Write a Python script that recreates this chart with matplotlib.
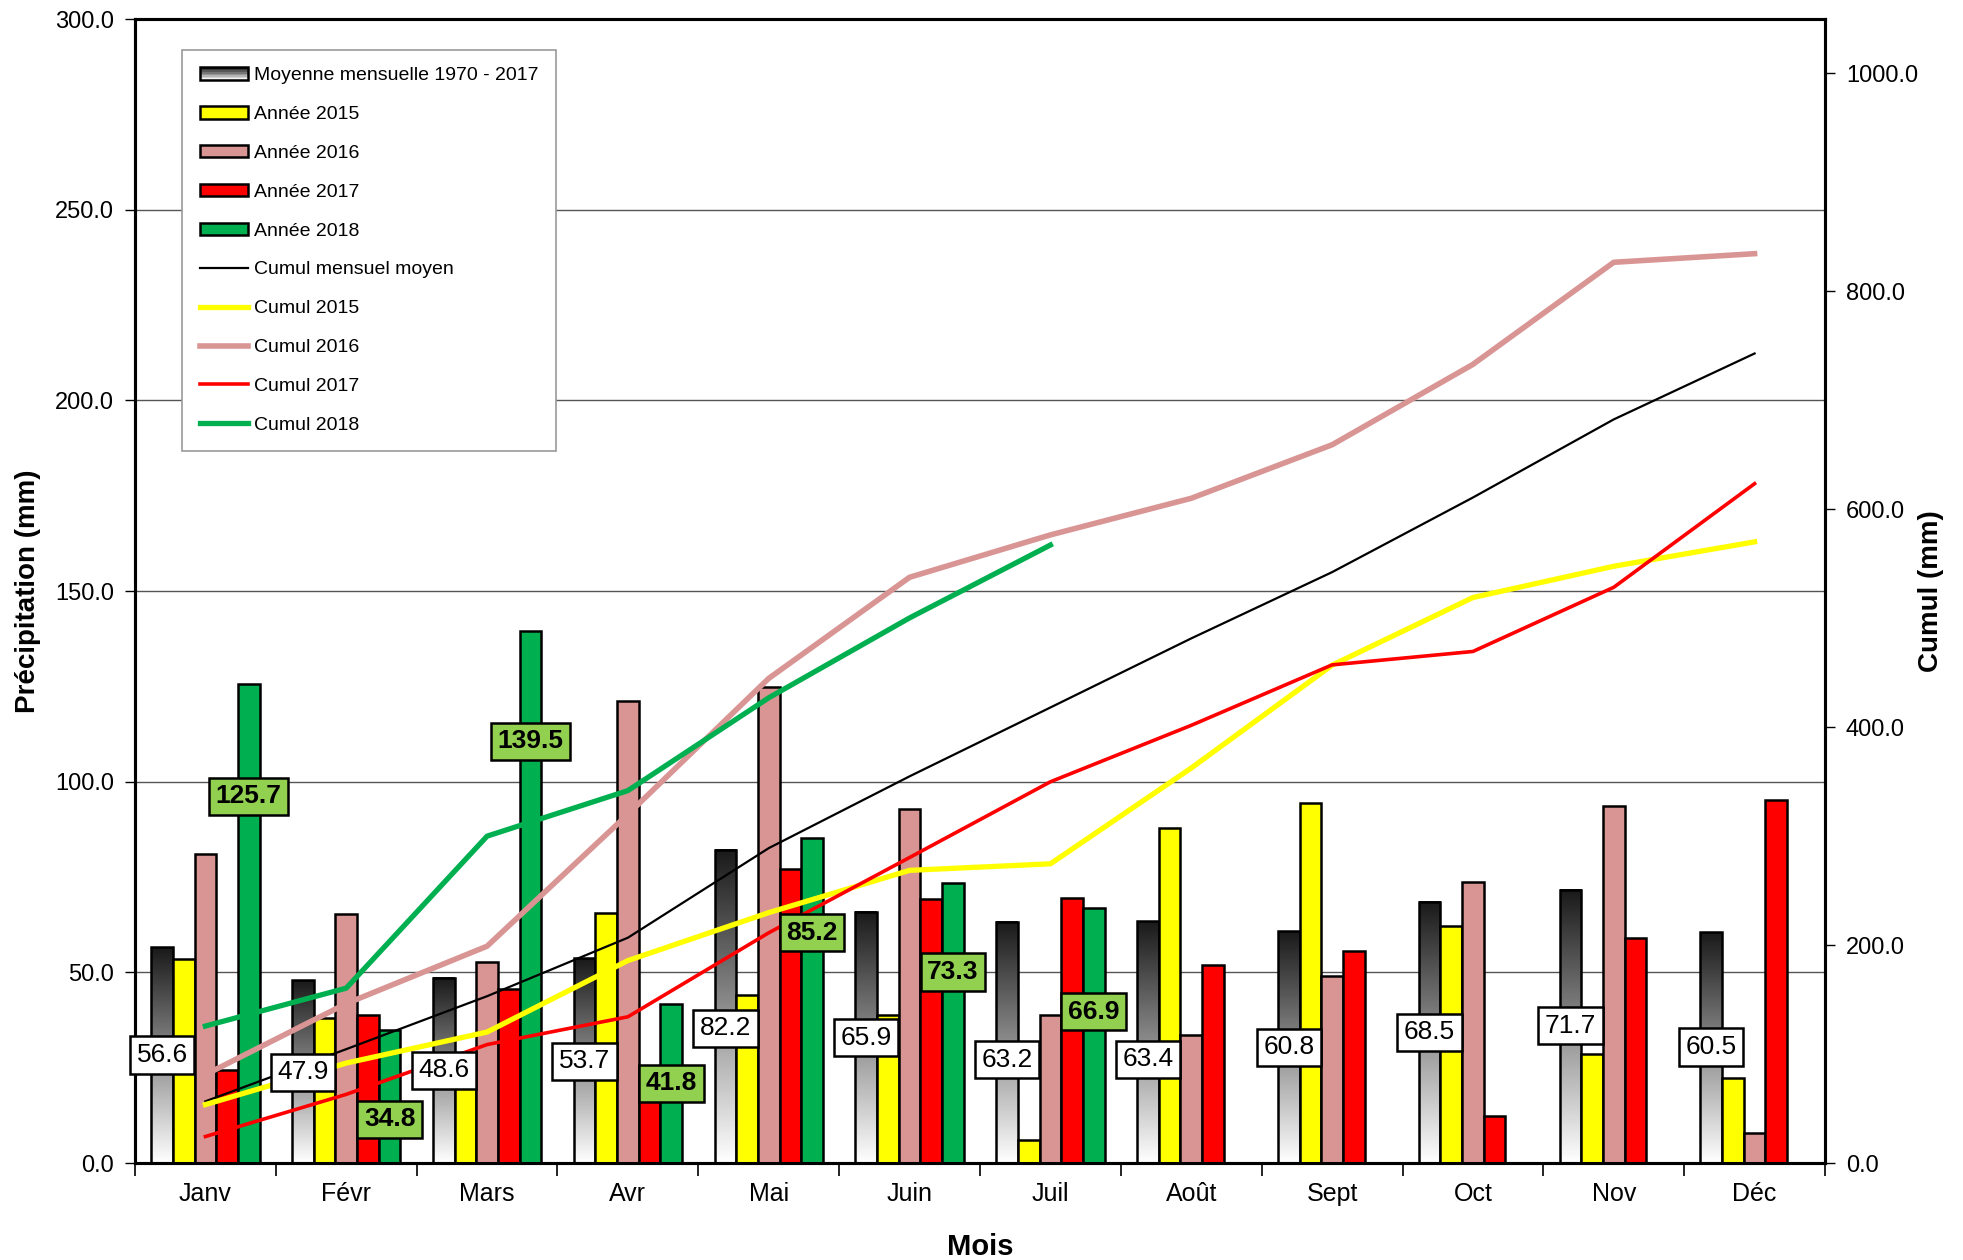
import numpy as np
import matplotlib
matplotlib.use("Agg")
import matplotlib.pyplot as plt
from matplotlib.patches import Rectangle
from matplotlib.lines import Line2D
from matplotlib.legend_handler import HandlerBase

plt.rcParams['font.family'] = ['Liberation Sans', 'DejaVu Sans']

# Data
mois = ['Janv', 'Févr', 'Mars', 'Avr', 'Mai', 'Juin', 'Juil', 'Août', 'Sept', 'Oct', 'Nov', 'Déc']
moyenne = [56.6, 47.9, 48.6, 53.7, 82.2, 65.9, 63.2, 63.4, 60.8, 68.5, 71.7, 60.5]
annee_2015 = [53.6, 38.1, 28.5, 65.6, 44.0, 38.8, 6.0, 87.9, 94.4, 62.1, 28.7, 22.4]
annee_2016 = [81.1, 65.2, 52.7, 121.1, 124.7, 92.8, 38.9, 33.6, 49.1, 73.8, 93.7, 7.9]
annee_2017 = [24.3, 38.7, 45.7, 25.5, 77.1, 69.1, 69.5, 51.8, 55.5, 12.3, 58.9, 95.1]
annee_2018 = [125.7, 34.8, 139.5, 41.8, 85.2, 73.3, 66.9]

# label heights (left axis units), placed by hand in the original
lbl_moy_y = [28.3, 23.8, 24.3, 26.7, 35.3, 32.9, 27.1, 27.2, 30.3, 34.3, 36.0, 30.4]
lbl_2018_y = [96.2, 11.5, 110.6, 20.9, 60.4, 50.1, 39.7]

C15 = '#FFFF00'
C16 = '#D99594'
C17 = '#FF0000'
C18 = '#00B050'


class HandlerGrad(HandlerBase):
    def create_artists(self, legend, orig_handle, xdescent, ydescent,
                       width, height, fontsize, trans):
        arts = []
        n = 8
        for k in range(n):
            shade = 0.1 + 0.85 * k / (n - 1)
            r = Rectangle((-xdescent, -ydescent + height * (1 - (k + 1) / n)),
                          width, height / n, facecolor=(shade, shade, shade),
                          edgecolor='none', transform=trans)
            arts.append(r)
        arts.append(Rectangle((-xdescent, -ydescent), width, height, fill=False,
                              edgecolor='black', linewidth=1.8, transform=trans))
        return arts


fig = plt.figure(figsize=(19.63, 12.60), dpi=100)
ax1 = fig.add_axes([135 / 1963, 1 - 1163 / 1260, 1690 / 1963, 1144 / 1260])
ax2 = ax1.twinx()

x = np.arange(len(mois))
w = 0.154
offs = [-2 * w, -w, 0, w, 2 * w]

# mean bars with vertical gradient (dark top -> white bottom)
grad = np.linspace(0.1, 1.0, 256).reshape(-1, 1)
for i, v in enumerate(moyenne):
    x0 = x[i] + offs[0] - w / 2
    ax1.imshow(grad, extent=[x0, x0 + w, 0, v], origin='upper', aspect='auto',
               cmap='gray', vmin=0, vmax=1, interpolation='bicubic', zorder=2)
ax1.bar(x + offs[0], moyenne, w, fill=False, edgecolor='black', linewidth=1.8, zorder=3)
ax1.bar(x + offs[1], annee_2015, w, color=C15, edgecolor='black', linewidth=1.8, zorder=3)
ax1.bar(x + offs[2], annee_2016, w, color=C16, edgecolor='black', linewidth=1.8, zorder=3)
ax1.bar(x + offs[3], annee_2017, w, color=C17, edgecolor='black', linewidth=1.8, zorder=3)
ax1.bar(x[:len(annee_2018)] + offs[4], annee_2018, w, color=C18, edgecolor='black',
        linewidth=1.8, zorder=3)

ax1.set_xlim(-0.5, 11.5)
ax1.set_ylim(0, 300)
ax1.set_yticks(np.arange(0, 301, 50))
ax1.set_yticklabels([f"{t:.1f}" for t in np.arange(0, 301, 50)])
ax1.yaxis.grid(True, color='#555555', linewidth=1.0)
ax1.set_axisbelow(True)
ax1.set_xticks(x)
ax1.set_xticklabels(mois)
ax1.set_xticks(np.arange(-0.5, 12, 1), minor=True)
ax1.tick_params(axis='x', which='major', length=0, labelsize=18, pad=14)
ax1.tick_params(axis='x', which='minor', length=9, width=1.2, direction='out')
ax1.tick_params(axis='y', labelsize=17, length=7, width=1.0, pad=8)
ax1.set_ylabel('Précipitation (mm)', fontsize=20, fontweight='bold', labelpad=10)
ax1.set_xlabel('Mois', fontsize=21, fontweight='bold', labelpad=19)
for sp in ax1.spines.values():
    sp.set_linewidth(2.2)

# cumulative lines
ax2.plot(x, np.cumsum(moyenne), color='black', linewidth=1.6, zorder=4)
ax2.plot(x, np.cumsum(annee_2015), color=C15, linewidth=3.8, zorder=4)
ax2.plot(x, np.cumsum(annee_2016), color=C16, linewidth=4.0, zorder=4)
ax2.plot(x, np.cumsum(annee_2017), color=C17, linewidth=2.6, zorder=4)
ax2.plot(x[:len(annee_2018)], np.cumsum(annee_2018), color=C18, linewidth=3.8, zorder=4)
ax2.set_ylim(0, 1050)
ax2.set_yticks(np.arange(0, 1001, 200))
ax2.set_yticklabels([f"{t:.1f}" for t in np.arange(0, 1001, 200)])
ax2.tick_params(axis='y', labelsize=17, length=7, width=1.0, pad=8)
ax2.set_ylabel('Cumul (mm)', fontsize=20, fontweight='bold', labelpad=0)
for sp in ax2.spines.values():
    sp.set_linewidth(2.2)

# value labels (drawn above the lines)
for i, v in enumerate(moyenne):
    ax2.text(x[i] + offs[0], lbl_moy_y[i], f"{v:.1f}", transform=ax1.transData,
             ha='center', va='center', fontsize=19, zorder=10,
             bbox=dict(boxstyle='square,pad=0.25', fc='white', ec='black', lw=1.8))
for i, v in enumerate(annee_2018):
    ax2.text(x[i] + offs[4], lbl_2018_y[i], f"{v:.1f}", transform=ax1.transData,
             ha='center', va='center', fontsize=19, fontweight='bold', zorder=10,
             bbox=dict(boxstyle='square,pad=0.25', fc='#92D050', ec='black', lw=1.8))

# legend
h_moy = Rectangle((0, 0), 1, 1)
handles = [
    h_moy,
    Rectangle((0, 0), 1, 1, fc=C15, ec='black', lw=1.8),
    Rectangle((0, 0), 1, 1, fc=C16, ec='black', lw=1.8),
    Rectangle((0, 0), 1, 1, fc=C17, ec='black', lw=1.8),
    Rectangle((0, 0), 1, 1, fc=C18, ec='black', lw=1.8),
    Line2D([], [], color='black', lw=1.6),
    Line2D([], [], color=C15, lw=3.8),
    Line2D([], [], color=C16, lw=4.0),
    Line2D([], [], color=C17, lw=2.6),
    Line2D([], [], color=C18, lw=3.8),
]
labels = ['Moyenne mensuelle 1970 - 2017', 'Année 2015', 'Année 2016', 'Année 2017',
          'Année 2018', 'Cumul mensuel moyen', 'Cumul 2015', 'Cumul 2016',
          'Cumul 2017', 'Cumul 2018']
leg = ax2.legend(handles, labels, loc='upper left', bbox_to_anchor=(0.028, 0.973),
                 fontsize=14, frameon=True, fancybox=False, framealpha=1,
                 edgecolor='#999999', labelspacing=1.12, handlelength=2.5,
                 handleheight=0.6, handletextpad=0.3, borderpad=0.9,
                 borderaxespad=0, handler_map={h_moy: HandlerGrad()})
leg.get_frame().set_linewidth(1.2)
leg.set_zorder(20)

fig.savefig('out.png', dpi=100)
